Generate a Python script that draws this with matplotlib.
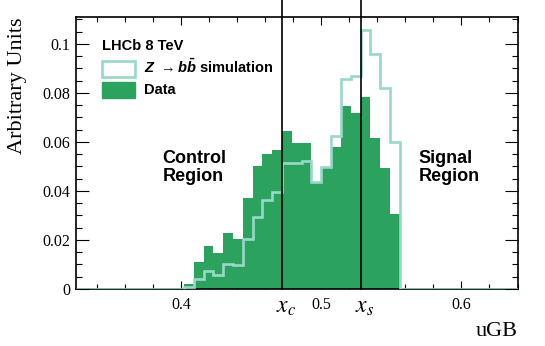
import numpy as np
import matplotlib
matplotlib.use("Agg")
import matplotlib.pyplot as plt
from matplotlib.patches import Patch
from matplotlib.font_manager import FontProperties
from matplotlib.ticker import MultipleLocator, FixedLocator
import matplotlib.transforms as mtransforms

plt.rcParams['mathtext.fontset'] = 'custom'
plt.rcParams['mathtext.it'] = 'Liberation Sans:italic:bold'
plt.rcParams['mathtext.rm'] = 'Liberation Sans:bold'
plt.rcParams['mathtext.bf'] = 'Liberation Sans:bold:italic'

# ---- data ----
bin_start = 0.325
bin_width = 0.007
n_bins = 45
data_values = [0]*11 + [0.002, 0.0111, 0.0175, 0.0146, 0.023, 0.0204, 0.037, 0.0502,
                        0.0551, 0.0567, 0.0645, 0.0595, 0.0595, 0.0434, 0.0493, 0.0581,
                        0.0747, 0.0717, 0.0785, 0.0615, 0.0493, 0.0306] + [0]*12
sim_values = [0]*11 + [0.001, 0.004, 0.0075, 0.0057, 0.0102, 0.0098, 0.0203, 0.0293,
                       0.0363, 0.0397, 0.0516, 0.0513, 0.0522, 0.0438, 0.0499, 0.0626,
                       0.0856, 0.0869, 0.1057, 0.0959, 0.0819, 0.0601] + [0]*12
x_c = 0.472
x_s = 0.528
xtick_values = [0.4, 0.5, 0.6]
ytick_values = [0, 0.02, 0.04, 0.06, 0.08, 0.1]
ytick_labels = ["0", "0.02", "0.04", "0.06", "0.08", "0.1"]

edges = bin_start + bin_width * np.arange(n_bins + 1)

data_color = "#2ca25f"
sim_color = "#99d8c9"

fig = plt.figure(figsize=(5.45, 3.46), dpi=100)
ax = fig.add_axes([76/545, 1-289/346, (517.5-76)/545, (289-17)/346])

ax.stairs(data_values, edges, fill=True, color=data_color, zorder=2)
ax.stairs(sim_values, edges, fill=False, color=sim_color, lw=1.9, zorder=3)

ax.set_xlim(0.325, 0.64)
ax.set_ylim(0, 0.111)

serif = "Liberation Serif"
ax.xaxis.set_major_locator(FixedLocator(xtick_values))
ax.set_xticklabels([f"{v:g}" for v in xtick_values], family=serif, fontsize=11.5)
ax.xaxis.set_minor_locator(MultipleLocator(0.02))
ax.yaxis.set_major_locator(FixedLocator(ytick_values))
ax.set_yticklabels(ytick_labels, family=serif, fontsize=11.5)
ax.yaxis.set_minor_locator(MultipleLocator(0.005))

ax.tick_params(axis='both', which='both', direction='in', top=True, right=True, width=0.8)
ax.tick_params(axis='x', which='major', length=6, pad=6)
ax.tick_params(axis='x', which='minor', length=3.5)
ax.tick_params(axis='y', which='major', length=9.5, pad=4)
ax.tick_params(axis='y', which='minor', length=4.5)
for s in ax.spines.values():
    s.set_linewidth(1.2)

ax.set_ylabel("Arbitrary Units", family=serif, fontsize=16, loc='top', labelpad=11.5)
ax.set_xlabel("uGB", family=serif, fontsize=16, loc='right', labelpad=6)

for xv in (x_c, x_s):
    ax.axvline(xv, ymin=0, ymax=1.2, color='black', lw=1.2, clip_on=False, zorder=5)

trans = mtransforms.blended_transform_factory(ax.transData, ax.transAxes)
ax.text(x_c - 0.004, -0.02, r"$x_c$", transform=trans, ha='left', va='top', fontsize=17,
        math_fontfamily='stix')
ax.text(x_s - 0.004, -0.02, r"$x_s$", transform=trans, ha='left', va='top', fontsize=17,
        math_fontfamily='stix')

sans_bold = dict(family="Liberation Sans", weight="bold", fontsize=13)
ax.text(0.3866, 0.0496, "Control\nRegion", ha='left', va='center', linespacing=1.05, **sans_bold)
ax.text(0.5695, 0.0496, "Signal\nRegion", ha='left', va='center', linespacing=1.05, **sans_bold)

handles = [Patch(facecolor='white', edgecolor=sim_color, lw=1.9),
           Patch(facecolor=data_color, edgecolor=data_color)]
labels = [r"$Z\ \rightarrow b\bar{b}$ simulation", "Data"]
prop = FontProperties(family="Liberation Sans", weight="bold", size=10.5)
prop.set_math_fontfamily('custom')
leg = ax.legend(handles, labels, loc='upper left', bbox_to_anchor=(0.045, 0.94),
                frameon=False, prop=prop, title="LHCb 8 TeV",
                title_fontproperties=FontProperties(family="Liberation Sans", weight="bold", size=10.5),
                alignment='left', handlelength=2.3, handleheight=1.3, handletextpad=0.6,
                labelspacing=0.35, borderaxespad=0)

fig.savefig("out.png", dpi=100)
